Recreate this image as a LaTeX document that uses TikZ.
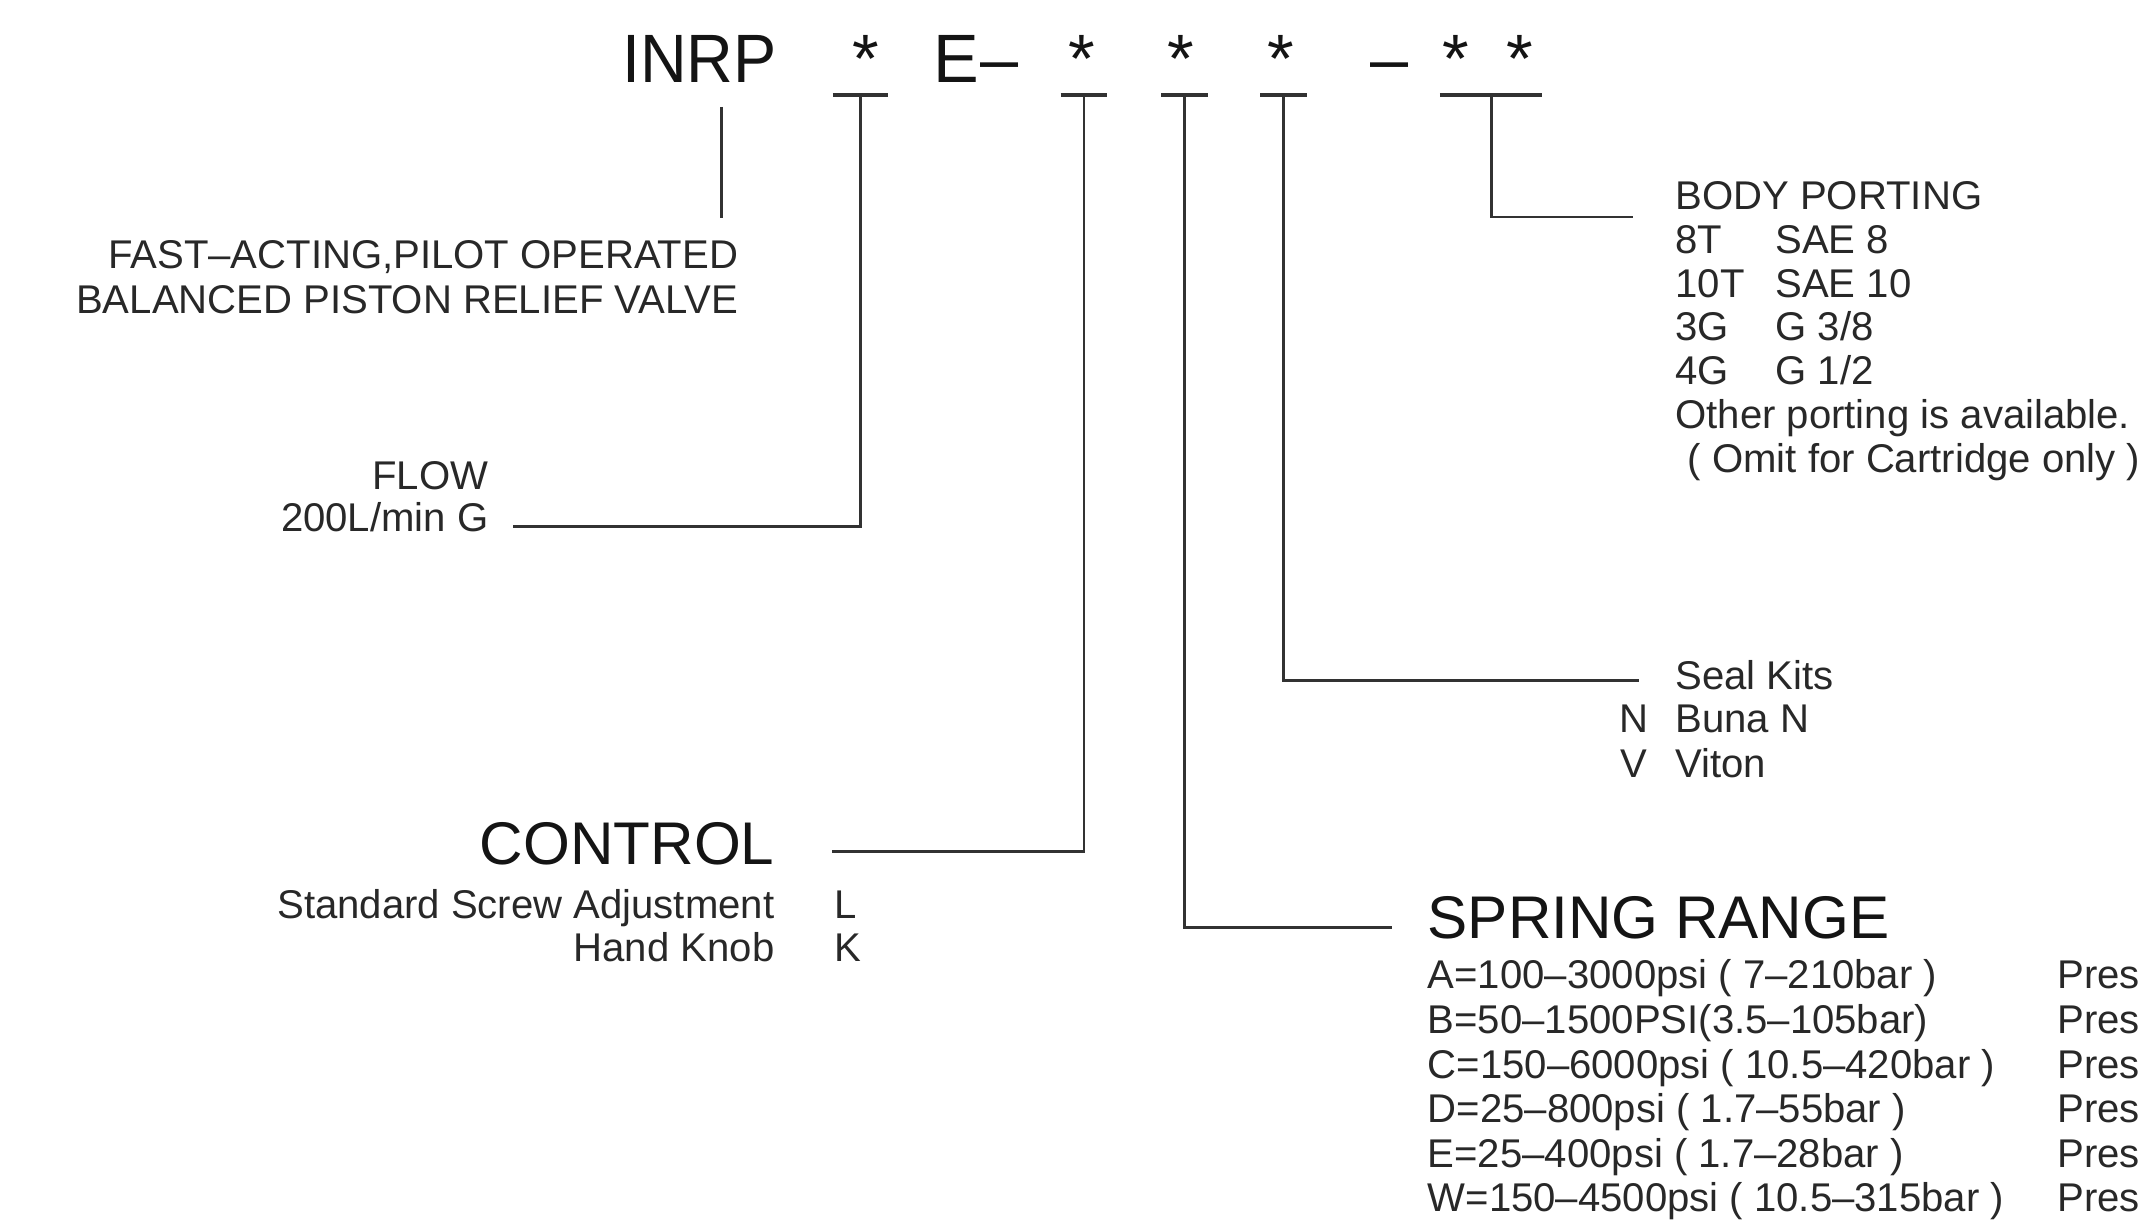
\documentclass[tikz,border=0pt]{standalone}
\usepackage{fontspec}
\setmainfont{Liberation Sans}
\definecolor{ink}{RGB}{40,40,40}
\definecolor{headink}{RGB}{20,20,20}
\definecolor{wirec}{RGB}{50,50,50}
\tikzset{
  body/.style={inner sep=0pt, text=ink, font=\fontsize{29.3}{32}\selectfont},
  head/.style={inner sep=0pt, text=headink, font=\fontsize{44}{47}\selectfont},
  ttl/.style={inner sep=0pt, text=headink, font=\fontsize{50}{54}\selectfont},
  wire/.style={draw=wirec, line width=2pt},
  bar/.style={draw=wirec, line width=2.6pt},
}
\begin{document}
\begin{tikzpicture}[x=1pt,y=-1pt]
\useasboundingbox (0,0) rectangle (1568,895);
\clip (0,0) rectangle (1568,895);
\fill[white] (0,0) rectangle (1568,895);

% ---- title code ----
\node[ttl, anchor=base west] (inrp) at (454.5,60.5) {\scalebox{0.945}[1]{INRP}};
\node[ttl, anchor=base] (s1) at (632.5,60.5) {*};
\node[ttl, anchor=base west] (e) at (682,60.5) {E};
\node[ttl, anchor=base west] (d1) at (716,60.5) {–};
\node[ttl, anchor=base] (s2) at (790.5,60.5) {*};
\node[ttl, anchor=base] (s3) at (863,60.5) {*};
\node[ttl, anchor=base] (s4) at (935.5,60.5) {*};
\node[ttl, anchor=base west] (d2) at (1001,60.5) {–};
\node[ttl, anchor=base] (s5) at (1064,60.5) {*};
\node[ttl, anchor=base] (s6) at (1110.5,60.5) {*};

% ---- taps under the code ----
\coordinate (t1) at (628.6,69.4);
\coordinate (t2) at (792,69.4);
\coordinate (t3) at (865.3,69.4);
\coordinate (t4) at (937.8,69.4);
\coordinate (t5) at (1090,69.4);
\draw[bar] ([xshift=-20pt]t1) -- ([xshift=20pt]t1);
\draw[bar] ([xshift=-17pt]t2) -- ([xshift=17pt]t2);
\draw[bar] ([xshift=-17pt]t3) -- ([xshift=17pt]t3);
\draw[bar] ([xshift=-17pt]t4) -- ([xshift=17pt]t4);
\draw[bar] ([xshift=-38pt]t5) -- ([xshift=37pt]t5);

% ---- texts ----
\node[body, anchor=base east] (fast) at (539.5,196) {FAST–ACTING,PILOT OPERATED};
\node[body, anchor=base east] (bal) at (539.5,229) {BALANCED PISTON RELIEF VALVE};

\node[body, anchor=base east] (flow) at (357,358) {FLOW};
\node[body, anchor=base east] (flowv) at (357,388.5) {200L/min G};

\node[head, anchor=base east] (ctrl) at (566,632) {CONTROL};
\node[body, anchor=base east] (std) at (566,671) {Standard Screw Adjustment};
\node[body, anchor=base east] (hk) at (566,702.7) {Hand Knob};
\node[body, anchor=base west] (cl) at (609.5,671) {L};
\node[body, anchor=base west] (ck) at (609.5,702.7) {K};

\node[body, anchor=base west] (bp) at (1224,153) {BODY PORTING};
\node[body, anchor=base west] (p1a) at (1224,185) {8T};
\node[body, anchor=base west] (p1b) at (1297,185) {SAE 8};
\node[body, anchor=base west] (p2a) at (1224,217) {10T};
\node[body, anchor=base west] (p2b) at (1297,217) {SAE 10};
\node[body, anchor=base west] (p3a) at (1224,249) {3G};
\node[body, anchor=base west] (p3b) at (1297,249) {G 3/8};
\node[body, anchor=base west] (p4a) at (1224,281) {4G};
\node[body, anchor=base west] (p4b) at (1297,281) {G 1/2};
\node[body, anchor=base west] (p5) at (1224,313) {Other porting is available.};
\node[body, anchor=base west] (p6) at (1233,345) {( Omit for Cartridge only )};

\node[body, anchor=base west] (sk) at (1224,504) {Seal Kits};
\node[body, anchor=base west] (skn) at (1183,535) {N};
\node[body, anchor=base west] (skbn) at (1224,535) {Buna N};
\node[body, anchor=base west] (skv) at (1184,568) {V};
\node[body, anchor=base west] (skvt) at (1224,568) {Viton};

\node[head, anchor=base west] (sr) at (1043,686) {SPRING RANGE};
\node[body, anchor=base west] (ra) at (1043,722.5) {A=100–3000psi ( 7–210bar )};
\node[body, anchor=base west] (rb) at (1043,755.1) {B=50–1500PSI(3.5–105bar)};
\node[body, anchor=base west] (rc) at (1043,787.7) {C=150–6000psi ( 10.5–420bar )};
\node[body, anchor=base west] (rd) at (1043,820.3) {D=25–800psi ( 1.7–55bar )};
\node[body, anchor=base west] (re) at (1043,852.9) {E=25–400psi ( 1.7–28bar )};
\node[body, anchor=base west] (rw) at (1043,885.5) {W=150–4500psi ( 10.5–315bar )};
\node[body, anchor=base west] (pa) at (1503,722.5) {Pres};
\node[body, anchor=base west] (pb) at (1503,755.1) {Pres};
\node[body, anchor=base west] (pc) at (1503,787.7) {Pres};
\node[body, anchor=base west] (pd) at (1503,820.3) {Pres};
\node[body, anchor=base west] (pe) at (1503,852.9) {Pres};
\node[body, anchor=base west] (pw) at (1503,885.5) {Pres};

% ---- connectors ----
\coordinate (ia) at (527,78);
\coordinate (ib) at (527,159);
\draw[wire] (ia) -- (ib);

\coordinate (fe) at (374.5,384.8);
\coordinate (ce) at (607.6,622);
\coordinate (se) at (1017,677.6);
\coordinate (ke) at (1197.6,497);
\coordinate (be) at (1193,158.6);
\draw[wire] (t1) |- (fe);
\draw[wire] (t2) |- (ce);
\draw[wire] (t3) |- (se);
\draw[wire] (t4) |- (ke);
\draw[wire] (t5) |- (be);
\end{tikzpicture}
\end{document}
